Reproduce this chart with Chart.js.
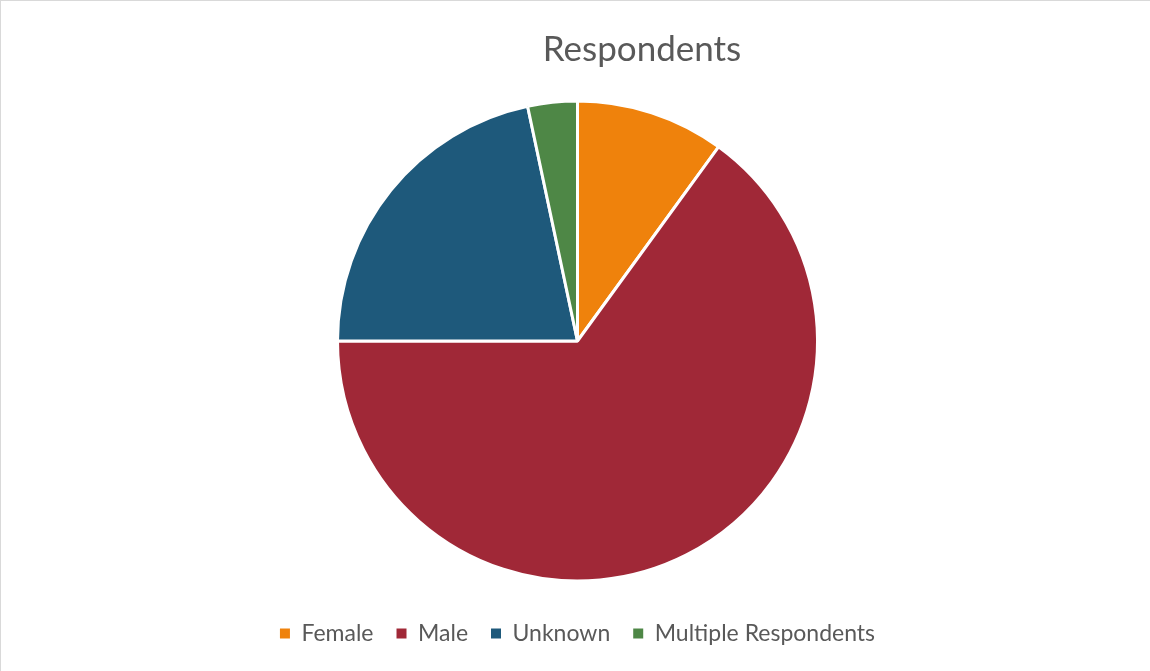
<!DOCTYPE html>
<html>
<head>
<meta charset="utf-8">
<script src="https://cdn.jsdelivr.net/npm/chart.js@4.4.0/dist/chart.umd.min.js"></script>
<style>
  html, body { margin: 0; padding: 0; background: #fff; }
  #wrap { position: relative; width: 1150px; height: 671px; }
  #frame { position: absolute; left: 0; top: 0; right: 0; bottom: 0;
           border-top: 1px solid #d9d9d9; border-left: 1px solid #d9d9d9; pointer-events: none; }
</style>
</head>
<body>
<div id="wrap">
  <canvas id="myChart" width="1150" height="671"></canvas>
  <div id="frame"></div>
</div>
<script>
const titleText = 'Respondents'
const categories = ['Female', 'Male', 'Unknown', 'Multiple Respondents']
const respondents = [30, 195, 65, 10]
const sliceColors = ['#EF820C', '#A02837', '#1E597B', '#4E8746']

// title sits right of the pie centre in the original, so draw it by hand
const titlePlugin = {
  id: 'offsetTitle',
  afterDraw(chart) {
    const ctx = chart.ctx
    ctx.save()
    ctx.font = '35px Lato'
    ctx.fillStyle = '#595959'
    ctx.textAlign = 'center'
    ctx.textBaseline = 'middle'
    ctx.fillText(titleText, 642, 50)
    ctx.restore()
  }
}

const ctx = document.getElementById('myChart')

const myChart = new Chart(ctx, {
  type: 'pie',
  data: {
    labels: categories,
    datasets: [{
      data: respondents,
      backgroundColor: sliceColors,
      borderColor: '#ffffff',
      borderWidth: 3,
      radius: 240
    }]
  },
  options: {
    responsive: false,
    animation: false,
    layout: { padding: { top: 83, bottom: 16, left: 5, right: 0 } },
    plugins: {
      tooltip: { enabled: false },
      title: { display: false },
      legend: {
        position: 'bottom',
        labels: {
          boxWidth: 10,
          boxHeight: 10,
          padding: 23,
          color: '#595959',
          font: { family: 'Lato', size: 23 },
          generateLabels(chart) {
            const items = Chart.controllers.pie.overrides.plugins.legend.labels.generateLabels(chart)
            items.forEach(item => { item.lineWidth = 0 })
            return items
          }
        }
      }
    }
  },
  plugins: [titlePlugin]
})
</script>
</body>
</html>
